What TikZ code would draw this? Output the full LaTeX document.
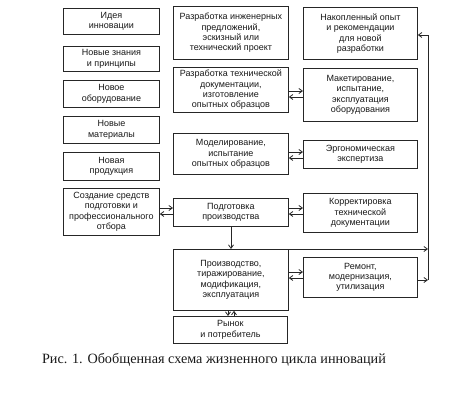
\documentclass[tikz,border=0pt]{standalone}
\usepackage{fontspec}
\setmainfont{Liberation Serif}
\setsansfont{Liberation Sans}
\usetikzlibrary{arrows.meta}
\begin{document}
\begin{tikzpicture}[x=1pt,y=-1pt,
  box/.style={draw=black!85, line width=0.8pt, anchor=north west, inner sep=1pt,
    align=center, font=\sffamily\fontsize{9}{10.4}\selectfont, text=black!90},
  arr/.style={draw=black!85, line width=0.8pt, -{Straight Barb[length=3.5pt,width=5pt]}},
  ln/.style={draw=black!85, line width=0.8pt}]
\useasboundingbox[fill=white] (0,0) rectangle (457,415);
% left column
\node[box, minimum width=96pt, minimum height=26pt] (idea) at (63,8) {Идея\\инновации};
\node[box, minimum width=96pt, minimum height=25pt] (znan) at (63,46) {Новые знания\\и принципы};
\node[box, minimum width=96pt, minimum height=27pt] (obor) at (63,80) {Новое\\оборудование};
\node[box, minimum width=96pt, minimum height=27pt] (mat) at (63,116) {Новые\\материалы};
\node[box, minimum width=96pt, minimum height=28pt] (prod) at (63,152) {Новая\\продукция};
\node[box, minimum width=96pt, minimum height=47pt] (sozd) at (63,188) {Создание средств\\подготовки и\\профессионального\\отбора};
% middle column
\node[box, minimum width=115pt, minimum height=53pt] (ing) at (173,6) {Разработка инженерных\\предложений,\\эскизный или\\технический проект};
\node[box, minimum width=115pt, minimum height=45pt] (tech) at (173,67) {Разработка технической\\документации,\\изготовление\\опытных образцов};
\node[box, minimum width=115pt, minimum height=41pt] (model) at (173,133) {Моделирование,\\испытание\\опытных образцов};
\node[box, minimum width=115pt, minimum height=28pt] (podg) at (173,198) {Подготовка\\производства};
\node[box, minimum width=115pt, minimum height=61pt] (proizv) at (173,249) {Производство,\\тиражирование,\\модификация,\\эксплуатация};
\node[box, minimum width=114pt, minimum height=27pt] (rynok) at (173,316) {Рынок\\и потребитель};
% right column
\node[box, minimum width=114pt, minimum height=52pt] (nakop) at (303,7) {Накопленный опыт\\и рекомендации\\для новой\\разработки};
\node[box, minimum width=114pt, minimum height=53pt] (maket) at (303,68) {Макетирование,\\испытание,\\эксплуатация\\оборудования};
\node[box, minimum width=114pt, minimum height=28pt] (ergo) at (303,140) {Эргономическая\\экспертиза};
\node[box, minimum width=114pt, minimum height=39pt] (korr) at (303,193) {Корректировка\\технической\\документации};
\node[box, minimum width=114pt, minimum height=40pt] (remont) at (303,257) {Ремонт,\\модернизация,\\утилизация};
% double arrows
\draw[arr] (tech.east |- 0,91) -- (maket.west |- 0,91);
\draw[arr] (maket.west |- 0,97) -- (tech.east |- 0,97);
\draw[arr] (model.east |- 0,152) -- (ergo.west |- 0,152);
\draw[arr] (ergo.west |- 0,158) -- (model.east |- 0,158);
\draw[arr] (sozd.east |- 0,208) -- (podg.west |- 0,208);
\draw[arr] (podg.west |- 0,214) -- (sozd.east |- 0,214);
\draw[arr] (podg.east |- 0,208) -- (korr.west |- 0,208);
\draw[arr] (korr.west |- 0,214) -- (podg.east |- 0,214);
\draw[arr] (proizv.east |- 0,272) -- (remont.west |- 0,272);
\draw[arr] (remont.west |- 0,278) -- (proizv.east |- 0,278);
% vertical arrows
\draw[arr] (podg.south -| 231,0) -- (proizv.north -| 231,0);
\draw[arr] (proizv.south -| 228,0) -- (rynok.north -| 228,0);
\draw[arr] (rynok.north -| 234,0) -- (proizv.south -| 234,0);
% feedback line
\coordinate (rtop) at (428,35);
\coordinate (r1) at (428,249);
\coordinate (r2) at (428,280);
\draw[ln] (rtop) -- (r2);
\draw[arr] (proizv.north east) -- (r1);
\draw[arr] (remont.east |- r2) -- (r2);
\draw[arr] (rtop) -- (nakop.east |- rtop);
% caption
\node[font=\fontsize{14.2}{16}\selectfont, text=black!90] (cap) at (214,360) {Рис. 1. Обобщенная схема жизненного цикла инноваций};
\end{tikzpicture}
\end{document}
